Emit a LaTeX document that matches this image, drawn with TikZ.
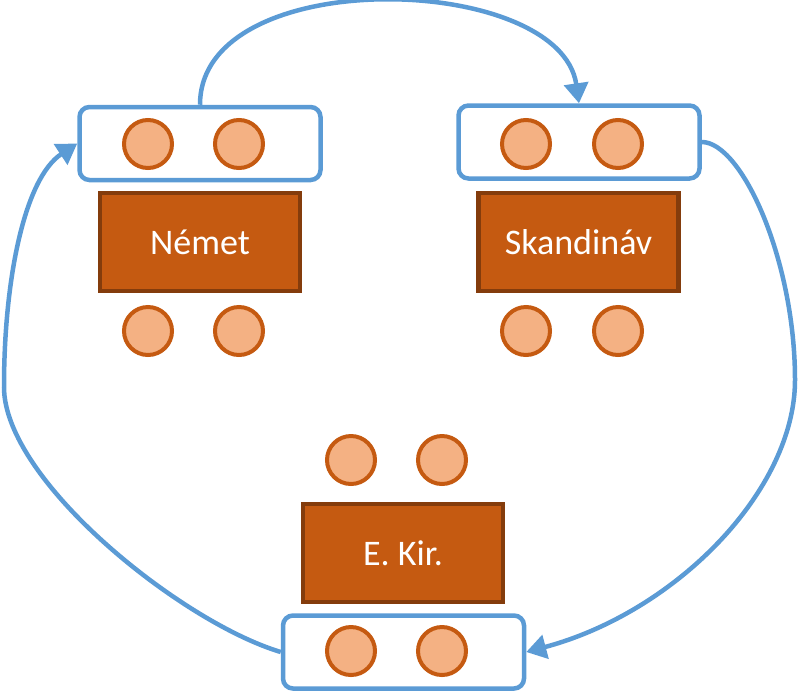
\documentclass[tikz,border=0pt]{standalone}
\usepackage{fontspec}
\setmainfont{Carlito}
\usetikzlibrary{arrows.meta}
\definecolor{rowblue}{HTML}{5B9BD5}
\definecolor{deskfill}{HTML}{C55A11}
\definecolor{deskline}{HTML}{843C0C}
\definecolor{chairfill}{HTML}{F4B183}
\definecolor{chairline}{HTML}{C55A11}
\begin{document}
\begin{tikzpicture}[x=1pt,y=-1pt]
	\tikzset{>={Triangle[length=20pt,width=24pt]}}
	\tikzset{chairrow/.style={draw=rowblue,line width=4.5pt,rounded corners=10pt,fill=white,minimum width=241pt,minimum height=73pt,inner sep=0pt},
		desk/.style={draw=deskline,fill=deskfill,line width=4.2pt,minimum width=200pt,minimum height=98pt,inner sep=0pt,text=white,font=\fontsize{36}{43}\selectfont},
		chair/.style={circle,draw=chairline,fill=chairfill,line width=4pt,minimum size=48pt,inner sep=0pt},
		swap/.style={draw=rowblue,line width=4.5pt,->}}
	\useasboundingbox (0,0) rectangle (799,694);
	% Nemet
	\node[chairrow] (nrow) at (200,143.5) {};
	\node[desk] (ndesk) at (200,242) {Német};
	\node[chair] (n1) at (148,144) {};
	\node[chair] (n2) at (239,144) {};
	\node[chair] (n3) at (148,331) {};
	\node[chair] (n4) at (239,331) {};
	% Skandinav
	\node[chairrow] (srow) at (579,142) {};
	\node[desk] (sdesk) at (578.5,242) {Skandináv};
	\node[chair] (s1) at (526,144) {};
	\node[chair] (s2) at (618,144) {};
	\node[chair] (s3) at (526,331) {};
	\node[chair] (s4) at (618,331) {};
	% E. Kir.
	\node[chairrow] (erow) at (403.5,652) {};
	\node[desk] (edesk) at (403,553) {E. Kir.};
	\node[chair] (e1) at (351,460) {};
	\node[chair] (e2) at (442,460) {};
	\node[chair] (e3) at (351,651) {};
	\node[chair] (e4) at (442,651) {};
	% rotation
	\coordinate (rturn) at (795,380);
	\coordinate (lturn) at (4,387);
	\draw[swap] (nrow.north) .. controls +(0,-142) and +(-19,-131) .. (srow.north);
	\draw[swap] (srow.east) .. controls +(40,0) and +(0,-120) .. (rturn)
		.. controls +(0,110) and +(150,-40) .. (erow.east);
	\draw[swap] (erow.west) .. controls +(-100,-30) and +(0,93) .. (lturn)
		.. controls +(0,-107) and +(-53,35) .. (nrow.west);
\end{tikzpicture}
\end{document}
